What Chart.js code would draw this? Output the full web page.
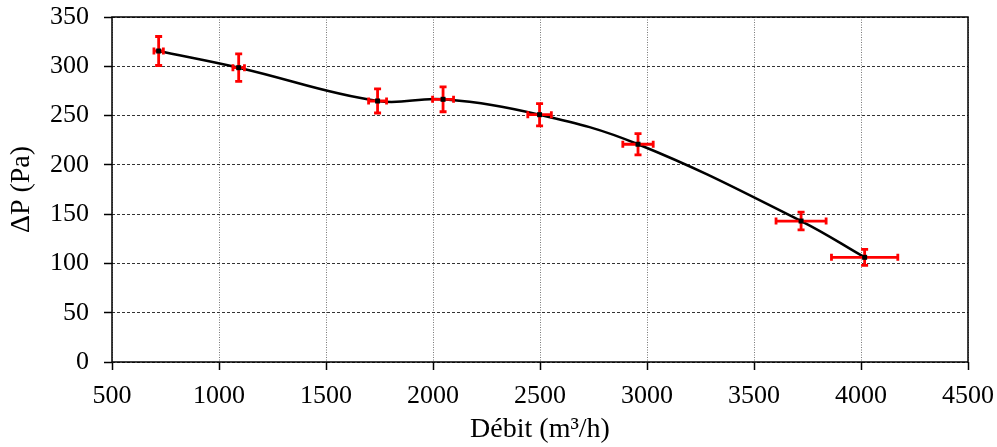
<!DOCTYPE html>
<html>
<head>
<meta charset="utf-8">
<script src="https://cdn.jsdelivr.net/npm/chart.js@4.4.1/dist/chart.umd.min.js"></script>
<style>
  html, body { margin: 0; padding: 0; background: #fff; }
  #wrap { width: 997px; height: 447px; }
</style>
</head>
<body>
<div id="wrap"><canvas id="c" width="997" height="447"></canvas></div>
<script>
// measured points (debit m3/h, deltaP Pa)
const debit = [718, 1092, 1741, 2047, 2498, 2958, 3720, 4017];
const deltaP = [315.5, 298.6, 264.8, 266.5, 250.9, 220.9, 143, 106.2];
// error bars
const errDebit = [22, 27, 42, 49, 55, 71, 117, 155];
const errDeltaP = [14.7, 13.9, 12.2, 12.6, 11.3, 10.7, 9, 8.1];
// axis ticks
const xTicks = [500, 1000, 1500, 2000, 2500, 3000, 3500, 4000, 4500];
const yTicks = [0, 50, 100, 150, 200, 250, 300, 350];

const FONT = "'Liberation Serif', 'Times New Roman', serif";

// error bars drawn through the scales
const errorBars = {
    id: 'errorBars',
    afterDatasetsDraw(chart) {
        const ctx = chart.ctx;
        const xs = chart.scales.x, ys = chart.scales.y;
        ctx.save();
        ctx.strokeStyle = '#ff0000';
        ctx.lineWidth = 2.8;
        const cap = 3.5;
        debit.forEach((d, i) => {
            const px = xs.getPixelForValue(d);
            const py = ys.getPixelForValue(deltaP[i]);
            const x0 = xs.getPixelForValue(d - errDebit[i]);
            const x1 = xs.getPixelForValue(d + errDebit[i]);
            const y0 = ys.getPixelForValue(deltaP[i] - errDeltaP[i]);
            const y1 = ys.getPixelForValue(deltaP[i] + errDeltaP[i]);
            ctx.beginPath();
            ctx.moveTo(px, y0); ctx.lineTo(px, y1);
            ctx.moveTo(px - cap, y0); ctx.lineTo(px + cap, y0);
            ctx.moveTo(px - cap, y1); ctx.lineTo(px + cap, y1);
            ctx.moveTo(x0, py); ctx.lineTo(x1, py);
            ctx.moveTo(x0, py - cap); ctx.lineTo(x0, py + cap);
            ctx.moveTo(x1, py - cap); ctx.lineTo(x1, py + cap);
            ctx.stroke();
            // small black marker
            ctx.fillStyle = '#000';
            ctx.fillRect(px - 2.5, py - 2.5, 5, 5);
        });
        ctx.restore();
    }
};

// solid frame around the plot area
const frame = {
    id: 'frame',
    afterDraw(chart) {
        const a = chart.chartArea, ctx = chart.ctx;
        ctx.save();
        ctx.strokeStyle = '#000';
        ctx.lineWidth = 1.5;
        ctx.strokeRect(a.left, a.top, a.right - a.left, a.bottom - a.top);
        ctx.restore();
    }
};

new Chart(document.getElementById('c'), {
    type: 'line',
    data: {
        datasets: [{
            data: debit.map((d, i) => ({x: d, y: deltaP[i]})),
            borderColor: '#000',
            borderWidth: 2.5,
            pointRadius: 0,
            tension: 0.4,
            fill: false
        }]
    },
    plugins: [errorBars, frame],
    options: {
        responsive: false,
        animation: false,
        layout: { padding: { top: 17, right: 29, left: 0, bottom: 0 } },
        plugins: { legend: { display: false }, tooltip: { enabled: false } },
        scales: {
            x: {
                type: 'linear',
                min: 500, max: 4500,
                afterBuildTicks: s => { s.ticks = xTicks.map(v => ({value: v})); },
                afterFit: s => { s.height = 85; s.paddingLeft = 0; s.paddingRight = 0; },
                border: { display: false, dash: [1, 1.5] },
                grid: {
                    color: '#777',
                    lineWidth: 1,
                    tickLength: 8,
                    tickColor: '#000',
                    tickWidth: 1.5,
                    tickBorderDash: []
                },
                ticks: {
                    color: '#000',
                    padding: 11,
                    maxRotation: 0,
                    autoSkip: false,
                    callback: v => String(v),
                    font: { family: FONT, size: 26 }
                },
                title: {
                    display: true,
                    text: 'Débit (m³/h)',
                    color: '#000',
                    padding: { top: 0, bottom: 1 },
                    font: { family: FONT, size: 28 }
                }
            },
            y: {
                min: 0, max: 350,
                afterBuildTicks: s => { s.ticks = yTicks.map(v => ({value: v})); },
                afterFit: s => { s.width = 112; s.paddingTop = 0; s.paddingBottom = 0; },
                border: { display: false, dash: [3, 2] },
                grid: {
                    color: '#333',
                    lineWidth: 1,
                    tickLength: 8,
                    tickColor: '#000',
                    tickWidth: 1.5,
                    tickBorderDash: []
                },
                ticks: {
                    color: '#000',
                    padding: 15,
                    autoSkip: false,
                    callback: v => String(v),
                    font: { family: FONT, size: 26 }
                },
                title: {
                    display: true,
                    text: 'ΔP (Pa)',
                    color: '#000',
                    padding: { top: 5, bottom: 0 },
                    font: { family: FONT, size: 28 }
                }
            }
        }
    }
});
</script>
</body>
</html>
